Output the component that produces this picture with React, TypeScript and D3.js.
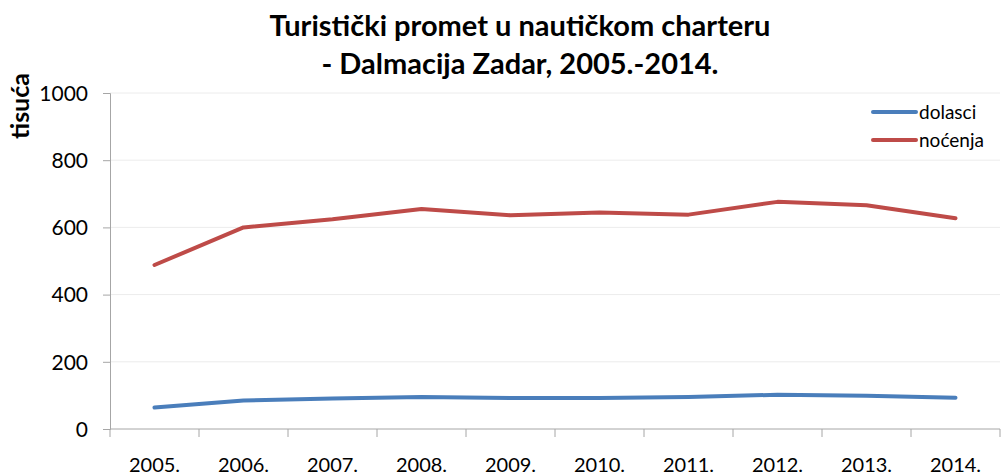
import React, { useRef, useEffect } from 'react';
import * as d3 from 'd3';

const years = ['2005.', '2006.', '2007.', '2008.', '2009.', '2010.', '2011.', '2012.', '2013.', '2014.'];
const dolasci = [64, 85, 91, 95, 92, 92, 95, 102, 99, 93];
const nocenja = [488, 600, 624, 655, 636, 644, 638, 676, 666, 627];
const yTicks = [0, 200, 400, 600, 800, 1000];
const seriesNames = ['dolasci', 'noćenja'];
const seriesColors = ['#4a7ebb', '#be4b48'];
const titleLines = ['Turistički promet u nautičkom charteru', '- Dalmacija Zadar, 2005.-2014.'];
const yTitle = 'tisuća';

const FONT = "Lato, 'Open Sans', sans-serif";

const App = () => {
  const svgRef = useRef<SVGSVGElement>(null);

  useEffect(() => {
    const W = 1001;
    const H = 476;
    const left = 110;
    const right = 1000;
    const top = 93;
    const bottom = 429;

    const svg = d3.select(svgRef.current).attr('width', W).attr('height', H);
    svg.selectAll('*').remove();

    svg.append('rect').attr('width', W).attr('height', H).attr('fill', 'white');

    const x = d3.scaleBand().domain(years).range([left, right]);
    const y = d3.scaleLinear().domain([0, 1000]).range([bottom, top]);

    // gridlines
    svg
      .append('g')
      .selectAll('line')
      .data(yTicks.filter((d) => d > 0))
      .join('line')
      .attr('x1', left)
      .attr('x2', right)
      .attr('y1', (d) => y(d))
      .attr('y2', (d) => y(d))
      .attr('stroke', '#ececec')
      .attr('stroke-width', 1);

    // y axis
    const yAxis = svg
      .append('g')
      .attr('transform', `translate(${left},0)`)
      .call(d3.axisLeft(y).tickValues(yTicks).tickSize(7).tickPadding(15).tickFormat(d3.format('d')));
    yAxis.select('.domain').attr('stroke', '#a6a6a6');
    yAxis.selectAll('.tick line').attr('stroke', '#a6a6a6');
    yAxis
      .selectAll('.tick text')
      .attr('font-family', FONT)
      .attr('font-size', 21)
      .attr('fill', '#000')
      .attr('dy', '0.35em');

    // x axis
    const xAxis = svg
      .append('g')
      .attr('transform', `translate(0,${bottom})`)
      .call(d3.axisBottom(x).tickSize(0).tickPadding(0));
    xAxis.select('.domain').remove();
    xAxis
      .append('line')
      .attr('x1', left)
      .attr('x2', right)
      .attr('stroke', '#a6a6a6');
    xAxis
      .selectAll('.boundary')
      .data(d3.range(years.length + 1))
      .join('line')
      .attr('class', 'boundary')
      .attr('x1', (i) => left + i * x.step())
      .attr('x2', (i) => left + i * x.step())
      .attr('y1', 0)
      .attr('y2', 8)
      .attr('stroke', '#a6a6a6');
    xAxis
      .selectAll('.tick text')
      .attr('font-family', FONT)
      .attr('font-size', 20)
      .attr('fill', '#000')
      .attr('y', 43)
      .attr('dy', 0);

    // lines
    const cx = (d: string) => (x(d) as number) + x.bandwidth() / 2;
    [dolasci, nocenja].forEach((vals, i) => {
      const line = d3
        .line<number>()
        .x((_, j) => cx(years[j]))
        .y((d) => y(d));
      svg
        .append('path')
        .datum(vals)
        .attr('fill', 'none')
        .attr('stroke', seriesColors[i])
        .attr('stroke-width', 4)
        .attr('stroke-linejoin', 'round')
        .attr('stroke-linecap', 'round')
        .attr('d', line);
    });

    // legend
    const legend = svg.append('g');
    seriesNames.forEach((name, i) => {
      const ly = 112 + i * 28;
      legend
        .append('line')
        .attr('x1', 873)
        .attr('x2', 916)
        .attr('y1', ly)
        .attr('y2', ly)
        .attr('stroke', seriesColors[i])
        .attr('stroke-width', 4)
        .attr('stroke-linecap', 'round');
      legend
        .append('text')
        .attr('x', 919)
        .attr('y', ly)
        .attr('dy', '0.35em')
        .attr('font-family', FONT)
        .attr('font-size', 19)
        .attr('fill', '#000')
        .text(name);
    });

    // title
    svg
      .append('g')
      .selectAll('text')
      .data(titleLines)
      .join('text')
      .attr('x', 520)
      .attr('y', (_, i) => 36 + i * 38)
      .attr('text-anchor', 'middle')
      .attr('font-family', FONT)
      .attr('font-weight', 'bold')
      .attr('font-size', 29)
      .attr('fill', '#000')
      .text((d) => d);

    // y title
    svg
      .append('text')
      .attr('transform', `translate(29,106) rotate(-90)`)
      .attr('text-anchor', 'middle')
      .attr('font-family', FONT)
      .attr('font-weight', 'bold')
      .attr('font-size', 25)
      .attr('fill', '#000')
      .text(yTitle);
  }, []);

  return <svg ref={svgRef} style={{ position: 'absolute', left: 0, top: 0, display: 'block' }}></svg>;
};

export default App;
